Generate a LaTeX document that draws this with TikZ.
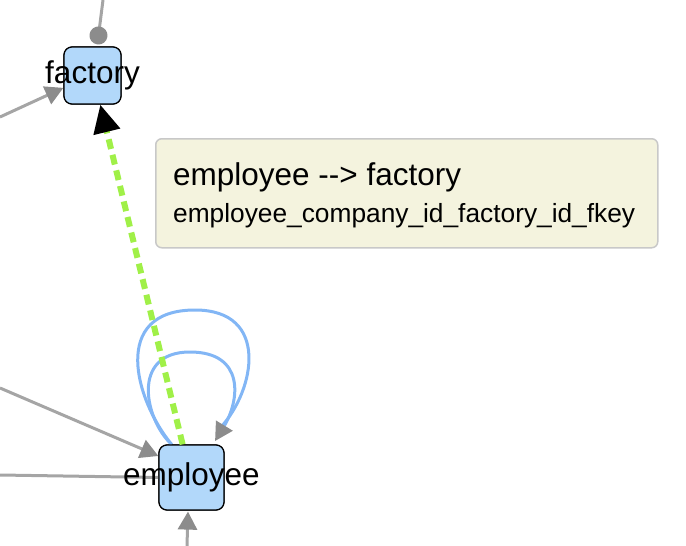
\documentclass[tikz,border=0pt]{standalone}
\usepackage{fontspec}
\setmainfont{Liberation Sans}
\usetikzlibrary{arrows.meta}
\definecolor{boxfill}{RGB}{178,216,250}
\definecolor{loopblue}{RGB}{130,182,245}
\definecolor{edgegray}{RGB}{165,165,165}
\definecolor{tipgray}{RGB}{140,140,140}
\definecolor{dashgreen}{RGB}{160,240,72}
\definecolor{tipfill}{RGB}{244,243,222}
\definecolor{tipborder}{RGB}{200,200,200}
\tikzset{
  tablebox/.style={draw=black, line width=1.2pt, fill=boxfill, rounded corners=8pt, inner sep=0pt},
  tablelbl/.style={inner sep=0pt, font=\fontsize{31.5}{36}\selectfont},
  grayedge/.style={draw=edgegray, line width=3pt},
  graytip/.style={-{Triangle[length=18pt,width=19pt,color=tipgray]}},
  loopedge/.style={draw=loopblue, line width=3pt},
  fkedge/.style={draw=dashgreen, line width=6pt, dash pattern=on 10pt off 6pt, -{Triangle[length=28pt,width=26pt,color=black]}},
  tipbox/.style={draw=tipborder, line width=1.5pt, fill=tipfill, rounded corners=6pt, inner sep=0pt},
}
\begin{document}
\begin{tikzpicture}[x=1pt,y=-1pt]
\useasboundingbox (0,0) rectangle (686,546);
% tables
\node[tablebox, minimum size=57pt] (fac) at (92.5,75.5) {};
\node[tablebox, minimum size=65pt] (emp) at (191.5,477.5) {};
% free ends
\coordinate (t1) at (103,0);
\coordinate (l1) at (0,117);
\coordinate (l2) at (0,388);
\coordinate (l3) at (0,475);
\coordinate (b1) at (187,546);
% gray edges
\draw[grayedge, -{Circle[length=18pt,width=18pt,color=tipgray]}, shorten >=2pt] (t1) -- (fac.81);
\draw[grayedge, graytip] (l1) -- (fac.203);
\draw[grayedge, graytip] (l2) -- (emp.147);
\draw[grayedge] (l3) -- (emp.west);
\draw[grayedge, graytip, shorten >=1pt] (b1) -- (emp.264);
% self loops
\draw[loopedge] (emp.121) .. controls (135,400) and (110,310) .. (195,310)
  .. controls (270,310) and (255,390) .. (221,427);
\draw[loopedge, -{Triangle[length=18pt,width=19pt,color=tipgray]}, shorten >=4pt] (emp.121) .. controls (145,420) and (130,352) .. (190,352)
  .. controls (245,352) and (240,400) .. (emp.57);
% redraw boxes on top of edges
\node[tablebox, minimum size=57pt] at (fac) {};
\node[tablebox, minimum size=65pt] at (emp) {};
% dashed fk edge
\draw[fkedge] (emp.105) -- (fac.285);
% labels
\node[tablelbl] (facl) at (92.5,75.5) {factory};
\node[tablelbl] (empl) at (191.5,477.5) {employee};
% tooltip
\node[tipbox, anchor=north west, minimum width=502pt, minimum height=109pt] (tip) at (155,138) {};
\node[anchor=base west, inner sep=0pt, font=\fontsize{31.5}{36}\selectfont] (tipa) at (173,185) {employee -{}-> factory};
\node[anchor=base west, inner sep=0pt, font=\fontsize{26.3}{32}\selectfont] (tipb) at (173,222) {employee\_company\_id\_factory\_id\_fkey};
\end{tikzpicture}
\end{document}
